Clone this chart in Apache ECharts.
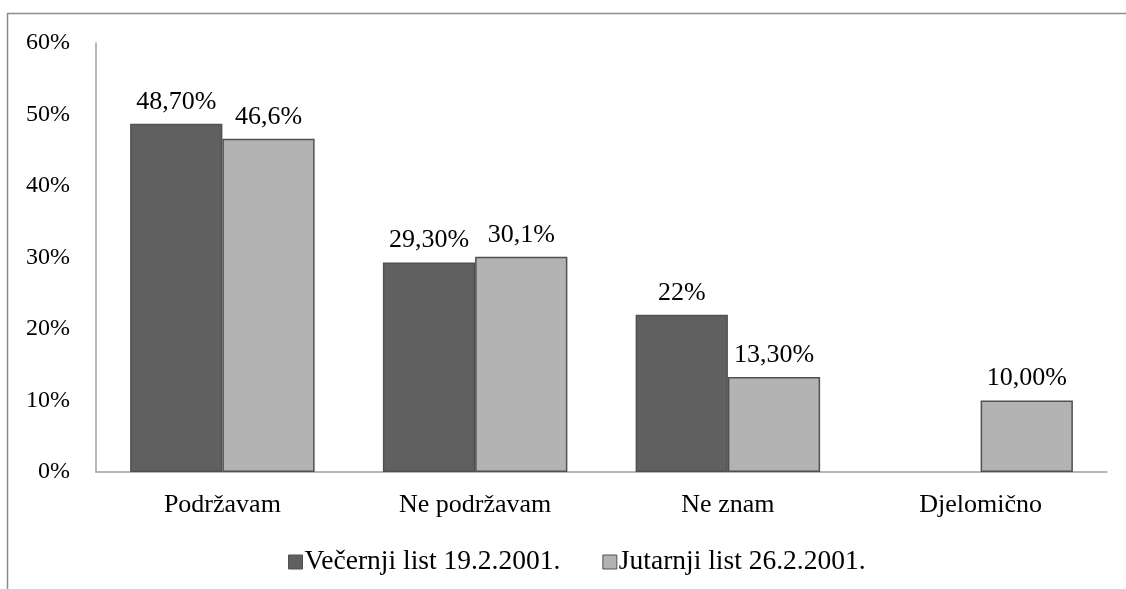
<!DOCTYPE html>
<html><head><meta charset="utf-8">
<script src="https://cdn.jsdelivr.net/npm/echarts@6/dist/echarts.min.js"></script>
<style>html,body{margin:0;padding:0;background:#fff}#c{width:1126px;height:589px}</style>
</head><body><div id="c"></div>
<script>
const categories = ['Podržavam', 'Ne podržavam', 'Ne znam', 'Djelomično'];
const seriesNames = ['Večernji list 19.2.2001.', 'Jutarnji list 26.2.2001.'];
const vecernji = [48.7, 29.3, 22, null];
const jutarnji = [46.6, 30.1, 13.3, 10];
const vecernjiLabels = ['48,70%', '29,30%', '22%', ''];
const jutarnjiLabels = ['46,6%', '30,1%', '13,30%', '10,00%'];
const yTicks = [0, 10, 20, 30, 40, 50, 60];

const font = 'Liberation Serif';
const chart = echarts.init(document.getElementById('c'));
function mk(name, data, labels, color) {
  return {
    name, type: 'bar', data, barGap: '0%', barCategoryGap: '27%',
    itemStyle: { color, borderColor: '#505050', borderWidth: 1.5 },
    label: { show: true, position: 'top', distance: 9, fontFamily: font, fontSize: 26, color: '#000',
      formatter: p => labels[p.dataIndex] },
    emphasis: { disabled: true }
  };
}
chart.setOption({
  animation: false,
  textStyle: { fontFamily: font },
  graphic: [{ type: 'rect', shape: { x: 7.5, y: 13.5, width: 1200, height: 700 },
    style: { fill: 'none', stroke: '#8c8c8c', lineWidth: 1.5 }, silent: true, z: -1 }],
  grid: { left: 96, right: 19, top: 43, bottom: 117 },
  legend: { bottom: 8, left: 283, itemWidth: 14, itemHeight: 14, itemGap: 42,
    icon: 'rect', textStyle: { fontFamily: font, fontSize: 27.5, color: '#000', padding: [0, 0, 0, -3] },
    itemStyle: { borderColor: '#505050', borderWidth: 1 },
    data: seriesNames },
  xAxis: { type: 'category', data: categories,
    axisLine: { lineStyle: { color: '#a0a0a0', width: 1.5 } }, axisTick: { show: false },
    axisLabel: { fontFamily: font, fontSize: 26, color: '#000', margin: 20 } },
  yAxis: { type: 'value', min: yTicks[0], max: yTicks[yTicks.length - 1], interval: 10,
    axisLine: { show: true, lineStyle: { color: '#a0a0a0', width: 1.5 } }, axisTick: { show: false },
    splitLine: { show: false },
    axisLabel: { fontFamily: font, fontSize: 24, color: '#000', margin: 26, formatter: v => v + '%' } },
  series: [mk(seriesNames[0], vecernji, vecernjiLabels, '#606060'),
           mk(seriesNames[1], jutarnji, jutarnjiLabels, '#b3b3b3')]
});
</script></body></html>
